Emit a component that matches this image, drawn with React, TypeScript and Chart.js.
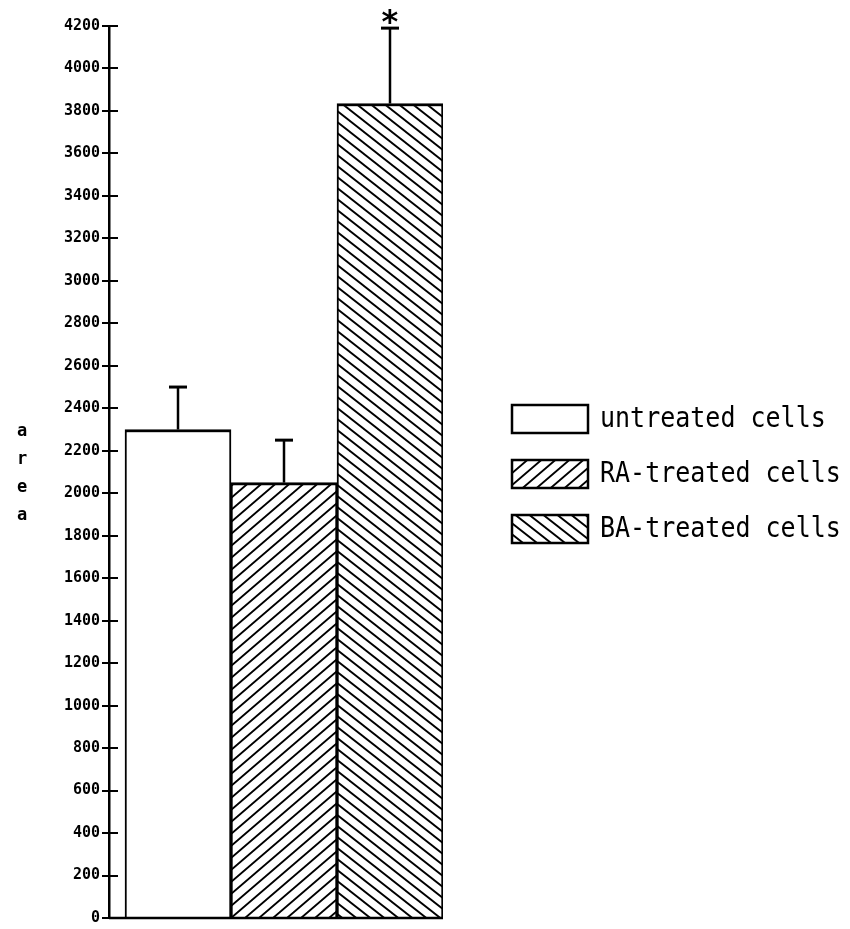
import React, { useEffect, useRef } from "react";
import { Chart, registerables } from "chart.js";

Chart.register(...registerables);

const categories = ["untreated cells", "RA-treated cells", "BA-treated cells"];
const barPositions = [1, 2, 3];
const areaValues = [2300, 2050, 3835];
const errorValues = [200, 200, 355];
const significance = ["", "", "*"];
const axisLetters = ["a", "r", "e", "a"];
const yMin = 0;
const yMax = 4200;
const yStep = 200;

function makePattern(kind: "none" | "fwd" | "back", w: number, h: number) {
  const c = document.createElement("canvas");
  c.width = w;
  c.height = h;
  const g = c.getContext("2d")!;
  g.fillStyle = "#fff";
  g.fillRect(0, 0, w, h);
  if (kind !== "none") {
    g.strokeStyle = "#000";
    g.lineWidth = 1.9;
    g.lineCap = "square";
    g.beginPath();
    for (let k = -1; k <= 1; k++) {
      if (kind === "fwd") {
        g.moveTo(k * w, h);
        g.lineTo(k * w + w, 0);
      } else {
        g.moveTo(k * w, 0);
        g.lineTo(k * w + w, h);
      }
    }
    g.stroke();
  }
  return g.createPattern(c, "repeat")!;
}

export default function App() {
  const ref = useRef<HTMLCanvasElement | null>(null);

  useEffect(() => {
    const canvas = ref.current!;
    const fills = [
      "#ffffff",
      makePattern("fwd", 14, 12),
      makePattern("back", 14, 11),
    ];

    const extras = {
      id: "extras",
      afterDraw(chart: any) {
        const ctx = chart.ctx;
        const y = chart.scales.y;
        const area = chart.chartArea;
        const meta = chart.getDatasetMeta(0);
        ctx.save();
        ctx.strokeStyle = "#000";
        ctx.fillStyle = "#000";

        // inner tick marks
        ctx.lineWidth = 2;
        for (let v = yMin; v <= yMax; v += yStep) {
          const py = Math.round(y.getPixelForValue(v));
          ctx.beginPath();
          ctx.moveTo(area.left, py);
          ctx.lineTo(area.left + 9, py);
          ctx.stroke();
        }

        // baseline
        const by = y.getPixelForValue(0);
        ctx.lineWidth = 2.5;
        ctx.beginPath();
        ctx.moveTo(area.left, by);
        ctx.lineTo(area.right, by);
        ctx.stroke();

        // error bars & significance
        meta.data.forEach((bar: any, i: number) => {
          const x = bar.x;
          const top = y.getPixelForValue(areaValues[i]);
          const cap = y.getPixelForValue(areaValues[i] + errorValues[i]);
          ctx.lineWidth = 2.5;
          ctx.beginPath();
          ctx.moveTo(x, top);
          ctx.lineTo(x, cap);
          ctx.stroke();
          ctx.lineWidth = 3;
          ctx.beginPath();
          ctx.moveTo(x - 9, cap);
          ctx.lineTo(x + 9, cap);
          ctx.stroke();
          if (significance[i]) {
            ctx.font = "bold 32px 'DejaVu Sans Mono'";
            ctx.textAlign = "center";
            ctx.textBaseline = "alphabetic";
            ctx.fillText(significance[i], x, cap + 4);
          }
        });

        // y axis letters
        ctx.font = "bold 17px 'DejaVu Sans Mono'";
        ctx.textAlign = "center";
        ctx.textBaseline = "middle";
        axisLetters.forEach((ch, i) => {
          ctx.fillText(ch, 22, 432 + i * 28);
        });

        // legend
        const lx = area.right + 69;
        categories.forEach((label, i) => {
          const ly = 405 + i * 55;
          ctx.fillStyle = fills[i];
          ctx.fillRect(lx, ly, 76, 28);
          ctx.lineWidth = 2.5;
          ctx.strokeStyle = "#000";
          ctx.strokeRect(lx, ly, 76, 28);
          ctx.save();
          ctx.fillStyle = "#000";
          ctx.translate(lx + 88, ly + 15);
          ctx.scale(1, 1.15);
          ctx.font = "25px 'DejaVu Sans Mono'";
          ctx.textAlign = "left";
          ctx.textBaseline = "middle";
          ctx.fillText(label, 0, 0);
          ctx.restore();
        });
        ctx.restore();
      },
    };

    const bg = {
      id: "bg",
      beforeDraw(chart: any) {
        const ctx = chart.ctx;
        ctx.save();
        ctx.fillStyle = "#fff";
        ctx.fillRect(0, 0, chart.width, chart.height);
        ctx.restore();
      },
    };

    const chart = new Chart(canvas, {
      type: "bar",
      data: {
        datasets: [
          {
            label: "area",
            data: barPositions.map((x, i) => ({ x, y: areaValues[i] })),
            backgroundColor: fills as any,
            borderColor: "#000",
            borderWidth: { top: 3, left: 2, right: 2, bottom: 0 },
            borderSkipped: false,
            barPercentage: 1,
            categoryPercentage: 1,
          },
        ],
      },
      options: {
        animation: false,
        responsive: false,
        events: [],
        layout: { padding: { top: 26, bottom: 9, right: 407, left: 0 } },
        plugins: { legend: { display: false }, tooltip: { enabled: false } },
        scales: {
          x: {
            type: "linear",
            display: false,
            offset: false,
            grid: { offset: false },
            min: 0.349,
            max: 3.5,
            afterBuildTicks: (s: any) => {
              s.ticks = barPositions.map((v) => ({ value: v }));
            },
          },
          y: {
            min: yMin,
            max: yMax,
            afterFit: (s: any) => {
              s.width = 109;
            },
            ticks: {
              stepSize: yStep,
              color: "#000",
              padding: 2,
              font: { family: "'DejaVu Sans Mono'", size: 15, weight: "bold" },
              callback: (v: any) => String(v),
            },
            grid: {
              display: true,
              drawOnChartArea: false,
              drawTicks: true,
              tickLength: 7,
              color: "#000",
              lineWidth: 2,
            },
            border: { display: true, color: "#000", width: 2.5 },
          },
        },
      },
      plugins: [bg, extras],
    } as any);
    return () => chart.destroy();
  }, []);

  return (
    <div style={{ position: "fixed", left: 0, top: 0, width: 850, height: 929, background: "#fff" }}>
      <canvas ref={ref} width={850} height={929} />
    </div>
  );
}
